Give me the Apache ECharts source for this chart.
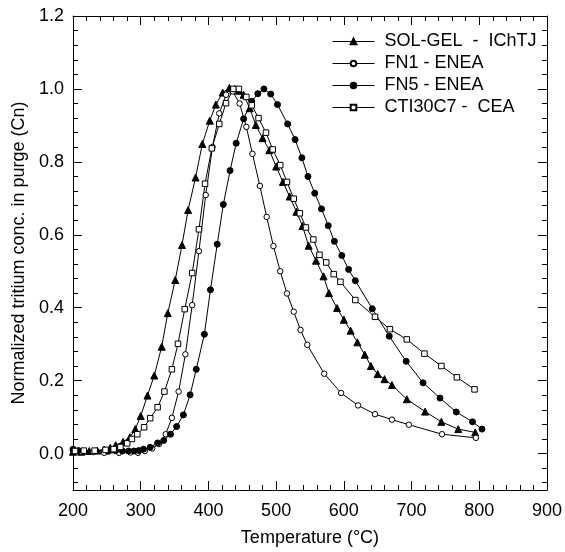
<!DOCTYPE html>
<html>
<head>
<meta charset="utf-8">
<script src="https://cdn.jsdelivr.net/npm/echarts@6/dist/echarts.min.js"></script>
<style>
html,body{margin:0;padding:0;background:#fff;}
#chart{width:565px;height:552px;}
</style>
</head>
<body>
<div id="chart"></div>
<script>
// ---- data (x = temperature °C, y = normalized conc.) ----
var seriesNames = ['SOL-GEL  -  IChTJ', 'FN1 - ENEA', 'FN5 - ENEA', 'CTI30C7 -  CEA'];

var solGel = [[200,0.005],[212,0.005],[224,0.007],[236,0.008],[246,0.011],[255,0.016],[263,0.023],[274,0.032],[284,0.045],[292,0.067],[300,0.103],[310,0.159],[320,0.214],[331,0.293],[340,0.385],[351,0.476],[361,0.572],[370,0.668],[381,0.757],[391,0.849],[402,0.913],[411,0.957],[421,0.990],[431,1.003],[439,1.0],[445,0.995],[452,0.984],[461,0.947],[470,0.901],[480,0.865],[490,0.832],[500,0.787],[510,0.745],[520,0.705],[530,0.663],[539,0.624],[548,0.570],[559,0.529],[570,0.486],[578,0.440],[590,0.399],[600,0.367],[610,0.337],[620,0.305],[631,0.271],[640,0.240],[650,0.218],[660,0.204],[671,0.188],[693,0.149],[720,0.115],[744,0.087],[769,0.067],[794,0.058]];

var fn1 = [[200,0.008],[212,0.004],[230,0.004],[246,0.002],[268,0.002],[285,0.003],[296,0.002],[306,0.007],[317,0.014],[327,0.026],[337,0.053],[346,0.098],[356,0.170],[366,0.272],[376,0.407],[386,0.555],[396,0.709],[406,0.841],[416,0.933],[426,0.984],[436,0.993],[446,0.960],[456,0.896],[465,0.822],[476,0.734],[486,0.649],[496,0.569],[506,0.500],[516,0.439],[526,0.389],[536,0.339],[546,0.298],[571,0.219],[596,0.166],[621,0.132],[646,0.108],[671,0.093],[696,0.079],[745,0.053],[795,0.043]];

var fn5 = [[200,0.012],[208,0.008],[216,0.006],[252,0.006],[263,0.008],[273,0.007],[282,0.007],[290,0.007],[297,0.008],[304,0.012],[314,0.017],[325,0.029],[334,0.036],[344,0.053],[353,0.074],[363,0.106],[373,0.161],[382,0.231],[394,0.327],[403,0.449],[413,0.574],[422,0.683],[432,0.776],[441,0.851],[452,0.918],[464,0.966],[473,0.987],[482,1.0],[492,0.986],[502,0.957],[517,0.904],[528,0.861],[538,0.811],[547,0.760],[557,0.714],[567,0.671],[577,0.625],[586,0.582],[597,0.543],[607,0.505],[617,0.474],[642,0.397],[667,0.322],[692,0.253],[717,0.194],[742,0.152],[766,0.114],[790,0.087],[804,0.067]];

var cti30c7 = [[203,0.007],[216,0.008],[232,0.008],[248,0.010],[260,0.012],[270,0.018],[280,0.028],[287,0.040],[295,0.053],[305,0.072],[314,0.097],[325,0.127],[335,0.170],[346,0.231],[355,0.301],[365,0.396],[376,0.495],[386,0.615],[395,0.740],[405,0.837],[416,0.904],[426,0.961],[437,1.0],[445,1.0],[456,0.978],[464,0.955],[474,0.920],[485,0.880],[495,0.834],[506,0.791],[516,0.745],[526,0.699],[535,0.659],[544,0.620],[555,0.587],[564,0.545],[574,0.524],[585,0.492],[595,0.471],[617,0.421],[646,0.375],[668,0.341],[693,0.313],[719,0.274],[744,0.240],[767,0.209],[793,0.176]];

var xMin = 200, xMax = 900, xStep = 100;
var yMin = -0.1, yMax = 1.2;
var yMajorTicks = [0, 0.2, 0.4, 0.6, 0.8, 1.0, 1.2];
var yMinorTicks = [-0.08, -0.04, 0.04, 0.08, 0.12, 0.16, 0.24, 0.28, 0.32, 0.36, 0.44, 0.48, 0.52, 0.56, 0.64, 0.68, 0.72, 0.76, 0.84, 0.88, 0.92, 0.96, 1.04, 1.08, 1.12, 1.16];
var xTitle = 'Temperature (°C)';
var yTitle = 'Normalized tritium conc. in purge (Cn)';

// ---- chart ----
var FONT = '"Liberation Sans", Arial, Helvetica, sans-serif';
var BLACK = '#000';
var chart = echarts.init(document.getElementById('chart'), null, {renderer: 'canvas'});

function xAxisDef(pos, showLabel) {
  return {
    type: 'value', position: pos, min: xMin, max: xMax, interval: xStep,
    axisLine: {show: true, onZero: false, lineStyle: {color: BLACK, width: 1}},
    axisTick: {show: true, inside: true, length: 9, lineStyle: {color: BLACK, width: 1}},
    minorTick: {show: true, splitNumber: 5, length: 5, lineStyle: {color: BLACK, width: 1}},
    splitLine: {show: false}, minorSplitLine: {show: false},
    axisLabel: {show: showLabel, color: BLACK, fontSize: 18, fontFamily: FONT, margin: 12},
    name: showLabel ? xTitle : '', nameLocation: 'middle', nameGap: 39,
    nameTextStyle: {color: BLACK, fontSize: 18, fontFamily: FONT}
  };
}
function yAxisDef(pos, ticks, len, showLine, showLabel) {
  return {
    type: 'value', position: pos, min: yMin, max: yMax,
    axisLine: {show: showLine, onZero: false, lineStyle: {color: BLACK, width: 1}},
    axisTick: {show: true, inside: true, length: len, customValues: ticks, lineStyle: {color: BLACK, width: 1}},
    splitLine: {show: false},
    axisLabel: {show: showLabel, customValues: ticks, color: BLACK, fontSize: 18, fontFamily: FONT, margin: 9,
      formatter: function (v) { return Number(v).toFixed(1); }},
    name: showLabel ? yTitle : '', nameLocation: 'middle', nameGap: 43, nameRotate: 90,
    nameTextStyle: {color: BLACK, fontSize: 18, fontFamily: FONT}
  };
}

function lineSeries(name, data, symbol, size, fill) {
  return {
    name: name, type: 'line', data: data, xAxisIndex: 0, yAxisIndex: 0,
    symbol: symbol, symbolSize: size, showAllSymbol: true,
    lineStyle: {color: BLACK, width: 1},
    itemStyle: {color: fill, borderColor: BLACK, borderWidth: 1},
    emphasis: {disabled: true}
  };
}

chart.setOption({
  animation: false,
  backgroundColor: '#fff',
  textStyle: {fontFamily: FONT},
  grid: {left: 73, top: 16, width: 476, height: 476, containLabel: false},
  legend: {
    orient: 'vertical', left: 332, top: 32.5, padding: 0,
    itemWidth: 42, itemHeight: 7, itemGap: 4,
    lineStyle: {width: 1},
    textStyle: {color: BLACK, fontSize: 18, fontFamily: FONT, lineHeight: 18, padding: [0, 0, 0, 5]},
    data: seriesNames
  },
  xAxis: [xAxisDef('bottom', true), xAxisDef('top', false)],
  yAxis: [
    yAxisDef('left', yMajorTicks, 9, true, true),
    yAxisDef('left', yMinorTicks, 5, false, false),
    yAxisDef('right', yMajorTicks, 9, true, false),
    yAxisDef('right', yMinorTicks, 5, false, false)
  ],
  series: [
    lineSeries(seriesNames[0], solGel, 'triangle', 7, BLACK),
    lineSeries(seriesNames[1], fn1, 'circle', 5.5, '#fff'),
    lineSeries(seriesNames[2], fn5, 'circle', 6, BLACK),
    lineSeries(seriesNames[3], cti30c7, 'rect', 5.5, '#fff')
  ]
});
</script>
</body>
</html>
